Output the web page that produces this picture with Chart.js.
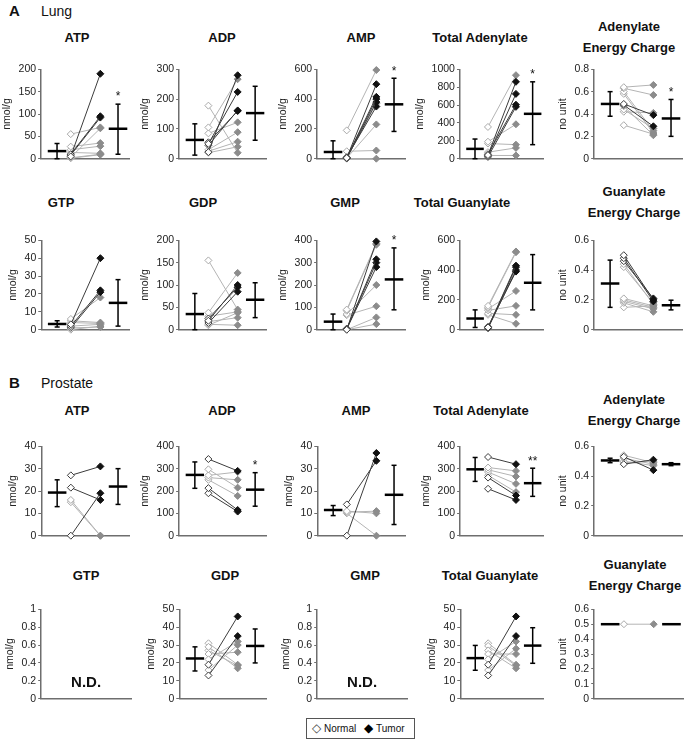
<!DOCTYPE html>
<html>
<head>
<meta charset="utf-8">
<script src="https://cdn.jsdelivr.net/npm/chart.js@4.4.1/dist/chart.umd.min.js"></script>
<style>
  body { margin: 0; background: #fff; font-family: "Liberation Sans", Arial, sans-serif; color: #111; }
  #fig { position: relative; width: 685px; height: 743px; overflow: hidden; }
  .box { position: absolute; }
  .ttl { position: absolute; font-weight: bold; font-size: 13px; line-height: 21px; text-align: center; white-space: pre; transform: translateX(-50%); }
  .sec { position: absolute; font-size: 14px; line-height: 16px; }
  .sec b { display: inline-block; width: 32px; font-size: 15px; }
  #legend { position: absolute; left: 306px; top: 718px; width: 107px; height: 19px; border: 1px solid #555; font-size: 10px; line-height: 19px; white-space: nowrap; }
  #legend span { position: absolute; top: 0; }
  #legend .mk { font-size: 12px; }
</style>
</head>
<body>
<div id="fig">
  <div class="sec" style="left:9px; top:3px;"><b>A</b>Lung</div>
  <div class="sec" style="left:9px; top:375px;"><b>B</b>Prostate</div>
  <div id="legend">
    <span class="mk" style="left:5px; color:#444">&#9671;</span><span style="left:17px">Normal</span>
    <span class="mk" style="left:57px; color:#000">&#9670;</span><span style="left:69px">Tumor</span>
  </div>
</div>
<script>
// panel names and units, same order for both tissues
const panelTitles = ['ATP', 'ADP', 'AMP', 'Total Adenylate', 'Adenylate\nEnergy Charge',
                     'GTP', 'GDP', 'GMP', 'Total Guanylate', 'Guanylate\nEnergy Charge'];
const yUnits = ['nmol/g', 'nmol/g', 'nmol/g', 'nmol/g', 'no unit',
                'nmol/g', 'nmol/g', 'nmol/g', 'nmol/g', 'no unit'];

// y axis ranges
const lungMax  = [200, 300, 600, 1000, 0.8, 50, 200, 400, 600, 0.6];
const lungStep = [50, 100, 200, 200, 0.2, 10, 50, 100, 200, 0.2];
const prosMax  = [40, 400, 40, 400, 0.6, 1, 50, 1, 50, 0.6];
const prosStep = [10, 100, 10, 100, 0.2, 0.2, 10, 0.2, 10, 0.1];

// significance marks over the tumor mean
const lungStars = ['*', '', '*', '*', '*', '', '', '*', '', ''];
const prosStars = ['', '*', '', '**', '', '', '', '', '', ''];

// ---- Lung: paired normal / tumor values, dark = black tumor marker
// stats = [mean, mean - SD, mean + SD]
const lungATP_normal = [5, 10, 8, 3, 55, 27, 20, 14, 2, 1];
const lungATP_tumor  = [190, 95, 92, 68, 70, 35, 28, 12, 10, 9];
const lungATP_dark   = [1, 1, 1, 0, 0, 0, 0, 0, 0, 0];
const lungATP_nStat  = [17, 0, 34];
const lungATP_tStat  = [67, 10, 122];

const lungADP_normal = [22, 50, 45, 55, 105, 178, 85, 30, 25, 20];
const lungADP_tumor  = [280, 224, 162, 160, 267, 20, 122, 89, 57, 40];
const lungADP_dark   = [1, 1, 1, 1, 0, 0, 0, 0, 0, 0];
const lungADP_nStat  = [63, 12, 117];
const lungADP_tStat  = [153, 62, 243];

const lungAMP_normal = [5, 8, 3, 2, 10, 190, 50, 0, 4, 6];
const lungAMP_tumor  = [500, 415, 400, 380, 350, 595, 55, 0, 230, 370];
const lungAMP_dark   = [1, 1, 1, 1, 1, 0, 0, 0, 0, 0];
const lungAMP_nStat  = [45, 0, 120];
const lungAMP_tStat  = [365, 183, 540];

const lungTA_normal = [40, 30, 50, 20, 355, 190, 170, 73, 36];
const lungTA_tumor  = [860, 725, 604, 580, 934, 385, 157, 121, 36];
const lungTA_dark   = [1, 1, 1, 1, 0, 0, 0, 0, 0];
const lungTA_nStat  = [110, 0, 220];
const lungTA_tStat  = [502, 157, 860];

const lungAEC_normal = [0.64, 0.63, 0.60, 0.58, 0.49, 0.48, 0.47, 0.44, 0.42, 0.30];
const lungAEC_tumor  = [0.66, 0.57, 0.25, 0.23, 0.39, 0.29, 0.21, 0.27, 0.41, 0.22];
const lungAEC_dark   = [0, 0, 0, 0, 1, 1, 0, 0, 0, 0];
const lungAEC_nStat  = [0.49, 0.38, 0.60];
const lungAEC_tStat  = [0.36, 0.20, 0.53];

const lungGTP_normal = [3, 2, 1, 6, 5, 4, 2, 0, 1];
const lungGTP_tumor  = [40, 22, 21, 18, 4, 3.5, 3, 2, 1.5];
const lungGTP_dark   = [1, 1, 1, 0, 0, 0, 0, 0, 0];
const lungGTP_nStat  = [3.2, 1.5, 5];
const lungGTP_tStat  = [15, 2, 28];

const lungGDP_normal = [20, 15, 25, 155, 38, 30, 18, 12, 10];
const lungGDP_tumor  = [100, 85, 95, 45, 127, 40, 27, 10, 38];
const lungGDP_dark   = [1, 1, 1, 0, 0, 0, 0, 0, 0];
const lungGDP_nStat  = [35, 0, 81];
const lungGDP_tStat  = [67, 27, 105];

const lungGMP_normal = [0, 2, 3, 5, 90, 85, 70, 65, 0, 0];
const lungGMP_tumor  = [395, 315, 280, 300, 385, 380, 200, 105, 55, 25];
const lungGMP_dark   = [1, 1, 1, 1, 0, 0, 0, 0, 0, 0];
const lungGMP_nStat  = [36, 0, 70];
const lungGMP_tStat  = [225, 89, 366];

const lungTG_normal = [15, 20, 10, 12, 160, 150, 140, 130, 110, 100];
const lungTG_tumor  = [430, 390, 400, 420, 525, 520, 260, 160, 100, 40];
const lungTG_dark   = [1, 1, 1, 1, 0, 0, 0, 0, 0, 0];
const lungTG_nStat  = [75, 15, 133];
const lungTG_tStat  = [315, 133, 504];

const lungGEC_normal = [0.50, 0.48, 0.46, 0.44, 0.42, 0.21, 0.20, 0.19, 0.18, 0.15];
const lungGEC_tumor  = [0.20, 0.19, 0.21, 0.17, 0.18, 0.16, 0.15, 0.14, 0.12, 0.16];
const lungGEC_dark   = [1, 1, 1, 0, 0, 0, 0, 0, 0, 0];
const lungGEC_nStat  = [0.31, 0.15, 0.467];
const lungGEC_tStat  = [0.164, 0.133, 0.198];

// ---- Prostate
const prosATP_normal = [27, 21.5, 0, 16, 15];
const prosATP_tumor  = [31, 16, 19, 0, 0];
const prosATP_dark   = [1, 1, 1, 0, 0];
const prosATP_nStat  = [19.3, 13, 25];
const prosATP_tStat  = [22, 14, 30];

const prosADP_normal = [343, 297, 270, 260, 250, 213, 190];
const prosADP_tumor  = [290, 215, 285, 250, 178, 115, 108];
const prosADP_dark   = [1, 0, 0, 0, 0, 1, 1];
const prosADP_nStat  = [272, 212, 330];
const prosADP_tStat  = [206, 132, 282];

const prosAMP_normal = [14, 0, 11, 10.5, 10];
const prosAMP_tumor  = [33.5, 37, 10, 11, 0];
const prosAMP_dark   = [1, 1, 0, 0, 0];
const prosAMP_nStat  = [11.5, 9, 13.5];
const prosAMP_tStat  = [18.3, 5, 31.5];

const prosTA_normal = [352, 305, 295, 285, 270, 260, 210];
const prosTA_tumor  = [320, 290, 265, 232, 195, 180, 160];
const prosTA_dark   = [1, 0, 0, 0, 0, 1, 1];
const prosTA_nStat  = [297, 243, 350];
const prosTA_tStat  = [235, 176, 302];

const prosAEC_normal = [0.54, 0.53, 0.52, 0.50, 0.49, 0.48];
const prosAEC_tumor  = [0.49, 0.44, 0.48, 0.47, 0.50, 0.51];
const prosAEC_dark   = [0, 1, 0, 0, 0, 1];
const prosAEC_nStat  = [0.505, 0.49, 0.52];
const prosAEC_tStat  = [0.48, 0.47, 0.49];

const prosGDP_normal = [13, 19, 22, 16, 25, 29, 31, 27];
const prosGDP_tumor  = [35, 46, 32, 30, 26, 17, 19, 18.5];
const prosGDP_dark   = [1, 1, 0, 0, 0, 0, 0, 0];
const prosGDP_nStat  = [22.5, 15.5, 29];
const prosGDP_tStat  = [29.5, 20, 39];

const prosTG_normal = [13, 19, 22, 16, 25, 27, 29.5, 31];
const prosTG_tumor  = [35, 46, 32, 28, 25, 17, 18.5, 19];
const prosTG_dark   = [1, 1, 0, 0, 0, 0, 0, 0];
const prosTG_nStat  = [22.7, 15.9, 29.8];
const prosTG_tStat  = [29.7, 19.8, 39.7];

const prosGEC_normal = [0.5];
const prosGEC_tumor  = [0.5];
const prosGEC_dark   = [0];
const prosGEC_nStat  = [0.5, 0.5, 0.5];
const prosGEC_tStat  = [0.5, 0.5, 0.5];

// null = not detected (N.D.)
const lungSets = [
  [lungATP_normal, lungATP_tumor, lungATP_dark, lungATP_nStat, lungATP_tStat],
  [lungADP_normal, lungADP_tumor, lungADP_dark, lungADP_nStat, lungADP_tStat],
  [lungAMP_normal, lungAMP_tumor, lungAMP_dark, lungAMP_nStat, lungAMP_tStat],
  [lungTA_normal, lungTA_tumor, lungTA_dark, lungTA_nStat, lungTA_tStat],
  [lungAEC_normal, lungAEC_tumor, lungAEC_dark, lungAEC_nStat, lungAEC_tStat],
  [lungGTP_normal, lungGTP_tumor, lungGTP_dark, lungGTP_nStat, lungGTP_tStat],
  [lungGDP_normal, lungGDP_tumor, lungGDP_dark, lungGDP_nStat, lungGDP_tStat],
  [lungGMP_normal, lungGMP_tumor, lungGMP_dark, lungGMP_nStat, lungGMP_tStat],
  [lungTG_normal, lungTG_tumor, lungTG_dark, lungTG_nStat, lungTG_tStat],
  [lungGEC_normal, lungGEC_tumor, lungGEC_dark, lungGEC_nStat, lungGEC_tStat]
];
const prosSets = [
  [prosATP_normal, prosATP_tumor, prosATP_dark, prosATP_nStat, prosATP_tStat],
  [prosADP_normal, prosADP_tumor, prosADP_dark, prosADP_nStat, prosADP_tStat],
  [prosAMP_normal, prosAMP_tumor, prosAMP_dark, prosAMP_nStat, prosAMP_tStat],
  [prosTA_normal, prosTA_tumor, prosTA_dark, prosTA_nStat, prosTA_tStat],
  [prosAEC_normal, prosAEC_tumor, prosAEC_dark, prosAEC_nStat, prosAEC_tStat],
  null,
  [prosGDP_normal, prosGDP_tumor, prosGDP_dark, prosGDP_nStat, prosGDP_tStat],
  null,
  [prosTG_normal, prosTG_tumor, prosTG_dark, prosTG_nStat, prosTG_tStat],
  [prosGEC_normal, prosGEC_tumor, prosGEC_dark, prosGEC_nStat, prosGEC_tStat]
];

// layout (pixels)
const colX = [41, 179, 317, 460, 594];
const colW = [90, 89, 90, 85, 90];
const rowTop = [69, 240, 446, 609];
const PLOT_H = 91;
const titleX = [[77, 222, 361, 480, 629], [61, 203, 345, 462, 634], [77, 222, 356, 481, 634], [86, 225, 365, 490, 635]];
const titleY = [37, 202, 410, 575];

// x positions inside a panel (0..1)
const X_NMEAN = 0.18, X_N = 0.335, X_T = 0.67, X_TMEAN = 0.87, HALF = 0.105;
const PAD_TOP = 8, PAD_BOTTOM = 7, PAD_RIGHT = 4;
const FONT = '"Liberation Sans", Arial, sans-serif';
Chart.defaults.font.family = FONT;

const fig = document.getElementById('fig');

// draws the significance stars and the N.D. note
const notePlugin = {
  id: 'note',
  afterDatasetsDraw(chart, args, opts) {
    const {ctx, chartArea} = chart;
    const xs = chart.scales.x, ys = chart.scales.y;
    ctx.save();
    ctx.fillStyle = '#111';
    ctx.textAlign = 'center';
    if (opts.star) {
      ctx.font = '12px ' + FONT;
      ctx.textBaseline = 'top';
      ctx.fillText(opts.star, xs.getPixelForValue(X_TMEAN), ys.getPixelForValue(opts.starY) - 13);
    }
    if (opts.nd) {
      ctx.font = 'bold 15px ' + FONT;
      ctx.textBaseline = 'middle';
      ctx.fillText('N.D.', (chartArea.left + chartArea.right) / 2, chartArea.bottom - 16);
    }
    ctx.restore();
  }
};

function makeDatasets(set) {
  const sets = [];
  if (!set) return sets;
  const [normal, tumor, dark, nStat, tStat] = set;
  // mean +/- SD crosses (drawn on top)
  [[X_NMEAN, nStat], [X_TMEAN, tStat]].forEach(([cx, s]) => {
    sets.push({
      data: [{x: cx - HALF, y: s[0]}, {x: cx + HALF, y: s[0]}],
      borderColor: '#000', borderWidth: 2.5, pointRadius: 0
    });
    if (s[2] > s[1]) {
      sets.push({
        data: [{x: cx, y: s[1]}, {x: cx, y: s[2]}],
        borderColor: '#000', borderWidth: 1.5,
        pointStyle: 'line', pointRadius: 2.5, pointBorderColor: '#000', pointBorderWidth: 1.5
      });
    }
  });
  // paired samples, dark ones first so they are painted above the grey ones
  const idx = normal.map((_, i) => i).sort((a, b) => dark[b] - dark[a]);
  idx.forEach(i => {
    const c = dark[i] ? {line: '#3c3c3c', nb: '#3c3c3c', tf: '#111'} : {line: '#b4b4b4', nb: '#a8a8a8', tf: '#8c8c8c'};
    sets.push({
      data: [{x: X_N, y: normal[i]}, {x: X_T, y: tumor[i]}],
      borderColor: c.line, borderWidth: 1,
      pointStyle: 'rectRot', pointRadius: 3.5, pointBorderWidth: 1,
      pointBackgroundColor: ['#fff', c.tf],
      pointBorderColor: [c.nb, c.tf]
    });
  });
  sets.forEach(d => { d.clip = false; d.tension = 0; d.fill = false; });
  return sets;
}

function buildChart(div, p, w) {
  div.innerHTML = '';
  const h = PAD_TOP + PLOT_H + PAD_BOTTOM;
  const c = document.createElement('canvas');
  c.width = w; c.height = h;
  c.style.width = w + 'px'; c.style.height = h + 'px';
  div.style.width = w + 'px'; div.style.height = h + 'px';
  div.appendChild(c);
  return new Chart(c, {
    type: 'line',
    data: {datasets: makeDatasets(p.set)},
    options: {
      responsive: false,
      animation: false,
      events: [],
      layout: {padding: {top: PAD_TOP, bottom: PAD_BOTTOM, right: PAD_RIGHT, left: 0}},
      scales: {
        x: {
          type: 'linear', min: 0, max: 1,
          ticks: {display: false},
          grid: {display: false, drawTicks: false},
          border: {display: true, color: '#6e6e6e', width: 1.5}
        },
        y: {
          min: 0, max: p.max,
          ticks: {
            stepSize: p.step, color: '#222', padding: 2, autoSkip: false,
            font: {size: 10.5},
            callback: v => String(+(+v).toFixed(2))
          },
          grid: {display: true, drawOnChartArea: false, drawTicks: true, tickLength: 3, color: '#6e6e6e', lineWidth: 1},
          border: {display: true, color: '#6e6e6e', width: 1.5},
          title: {display: true, text: p.unit, color: '#222', font: {size: 10.5}, padding: {top: 0, bottom: 3}}
        }
      },
      plugins: {
        legend: {display: false},
        tooltip: {enabled: false},
        note: {star: p.star, starY: p.set ? p.set[4][2] : 0, nd: !p.set}
      }
    },
    plugins: [notePlugin]
  });
}

function makePanel(p) {
  const div = document.createElement('div');
  div.className = 'box';
  fig.appendChild(div);
  // first pass to learn the y axis width, second pass at the exact size
  let chart = buildChart(div, p, 70 + p.w);
  const left = chart.chartArea.left;
  chart.destroy();
  chart = buildChart(div, p, Math.round(left) + p.w + PAD_RIGHT);
  div.style.left = (p.x - chart.chartArea.left) + 'px';
  div.style.top = (p.y - PAD_TOP) + 'px';

  const t = document.createElement('div');
  t.className = 'ttl';
  t.textContent = p.title;
  const lines = p.title.split('\n').length;
  t.style.left = p.tx + 'px';
  t.style.top = (p.ty - lines * 21 / 2) + 'px';
  fig.appendChild(t);
}

[[lungSets, lungMax, lungStep, lungStars, 0], [prosSets, prosMax, prosStep, prosStars, 2]].forEach(([sets, maxes, steps, stars, row0]) => {
  sets.forEach((set, i) => {
    const row = row0 + Math.floor(i / 5), col = i % 5;
    makePanel({
      set: set, max: maxes[i], step: steps[i], star: stars[i],
      title: panelTitles[i], unit: yUnits[i],
      x: colX[col], w: colW[col], y: rowTop[row],
      tx: titleX[row][col], ty: titleY[row]
    });
  });
});
</script>
</body>
</html>
